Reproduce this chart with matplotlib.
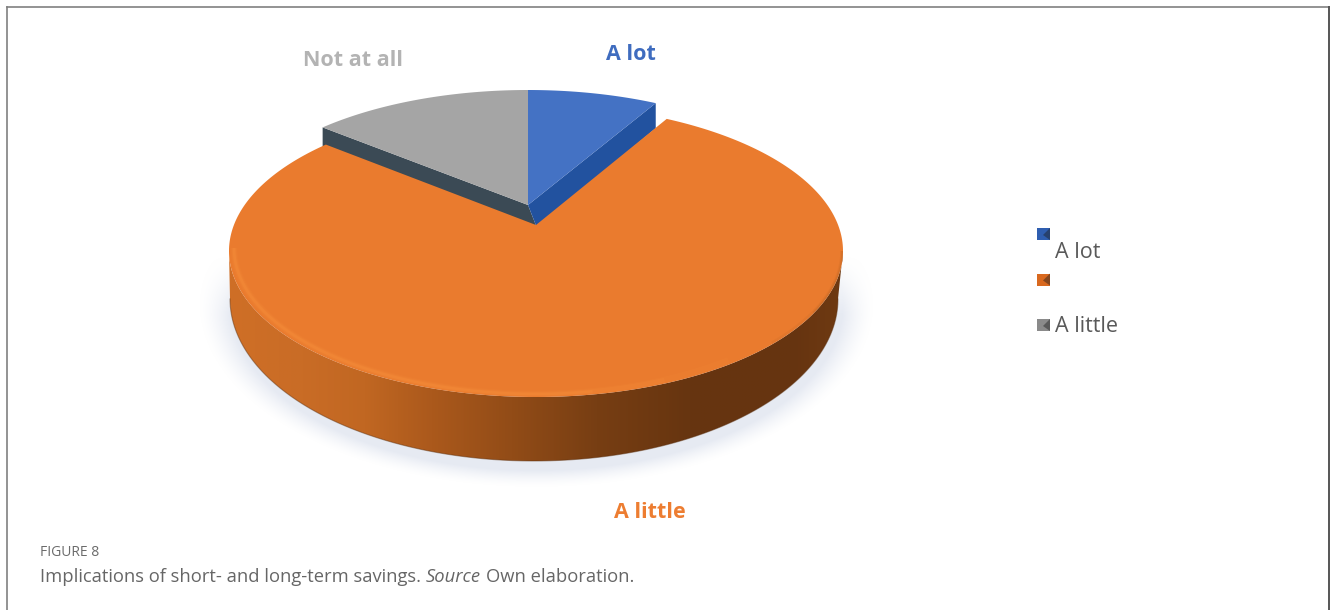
import numpy as np
import matplotlib
matplotlib.use("Agg")
import matplotlib.pyplot as plt
from matplotlib.colors import LinearSegmentedColormap
from matplotlib.patches import Polygon, Rectangle

# Survey shares, clockwise from twelve o'clock
categories = ["A lot", "A little", "Not at all"]
shares = [7, 81, 12]
slice_colors = ["#4472c4", "#ea7b2e", "#a5a5a5"]
label_colors = ["#3f6cbf", "#ed7d31", "#b3b3b3"]
legend_entries = ["A lot", "", "A little"]
legend_colors = ["#2f5eb0", "#d9691f", "#8a8a8a"]
caption_head = "FIGURE 8"
caption_body = "Implications of short- and long-term savings."

W, H = 1330, 610
fig = plt.figure(figsize=(W / 100, H / 100), dpi=100)
ax = fig.add_axes([0, 0, 1, 1])
ax.set_xlim(0, W)
ax.set_ylim(H, 0)
ax.axis("off")

# Slice boundaries in radians
edges = np.radians(np.cumsum([0] + shares) * 3.6)


def rim(theta, cx, cy, a, b):
    return np.column_stack([cx + a * np.sin(theta), cy - b * np.cos(theta)])


# Panel frame: open at the bottom, darker on the right
ax.plot([6.5, 6.5], [H + 2, 6.5], color="#808080", lw=1.2, zorder=1)
ax.plot([6.5, 1329], [6.5, 6.5], color="#808080", lw=1.2, zorder=1)
ax.plot([1329, 1329], [6.5, H + 2], color="#555555", lw=1.4, zorder=1)

# Orange disc geometry
OX, OY, OA, OB = 536, 251, 307, 146
HUB = (536, 225)
BX, BY, BA, BB = 534, 299, 304, 162

# Soft drop shadow under the disc, fading out towards the rim's widest point
yy, xx = np.mgrid[0:H, 0:W]
dist = np.sqrt(((xx - 536) / 316) ** 2 + ((yy - 303) / 172) ** 2)
alpha = np.clip((1.07 - dist) / 0.10, 0, 1) ** 1.5 * 0.5 * np.clip((yy - 255) / 60, 0, 1)
shadow = np.zeros((H, W, 4))
shadow[..., :3] = matplotlib.colors.to_rgb("#cdd5e6")
shadow[..., 3] = alpha
ax.imshow(shadow, extent=(0, W, H, 0), zorder=1, interpolation="bilinear", aspect="auto")

# Curved outer wall with its lateral shading
front = np.linspace(np.pi / 2, 3 * np.pi / 2, 200)
wall_pts = np.vstack([rim(front, OX, OY, OA, OB), rim(front[::-1], BX, BY, BA, BB)])
wall_cmap = LinearSegmentedColormap.from_list("wall", [
    (0.00, "#cf6f26"), (0.12, "#c96c26"), (0.22, "#c16722"), (0.33, "#ab591c"),
    (0.46, "#924c17"), (0.60, "#773e13"), (0.75, "#673510"), (0.92, "#663410"), (1.00, "#6f3a12"),
])
wall_img = ax.imshow(np.linspace(0, 1, 256).reshape(1, -1), extent=(229, 843, 470, 240),
                     cmap=wall_cmap, aspect="auto", zorder=2, interpolation="bilinear")
wall_patch = Polygon(wall_pts, closed=True, transform=ax.transData, fc="none", ec="none")
ax.add_patch(wall_patch)
wall_img.set_clip_path(wall_patch)
ax.plot(*rim(front, BX, BY, BA, BB).T, color="#5b2f0e", lw=0.8, alpha=0.45, zorder=3)

# Pulled-out slices: the blue and grey wedges sit behind the orange one
SX, SY, SA, SB = 528, 228, 300, 138
APEX = np.array([528, 205])
APEX_LOW = np.array([537, 228])
DROP = np.array([0, 25])

blue_end = rim(np.array([edges[1]]), SX, SY, SA, SB)[0]
grey_end = rim(np.array([edges[2]]), SX, SY, SA, SB)[0]
ax.add_patch(Polygon([APEX, grey_end, grey_end + DROP, APEX_LOW], fc="#3b4a55", ec="none", zorder=4))
ax.add_patch(Polygon([APEX, blue_end, blue_end + DROP, APEX_LOW], fc="#22529f", ec="none", zorder=4))

arc_blue = np.linspace(edges[0], edges[1], 40)
arc_grey = np.linspace(edges[2], edges[3], 60)
ax.add_patch(Polygon(np.vstack([APEX, rim(arc_blue, SX, SY, SA, SB)]),
                     fc=slice_colors[0], ec="none", zorder=5))
ax.add_patch(Polygon(np.vstack([APEX, rim(arc_grey, SX, SY, SA, SB)]),
                     fc=slice_colors[2], ec="none", zorder=5))

# Orange top surface with a soft bevel along the front edge
arc_orange = np.linspace(edges[1], edges[2], 300)
orange_top = Polygon(np.vstack([HUB, rim(arc_orange, OX, OY, OA, OB)]),
                     fc=slice_colors[1], ec="none", zorder=6)
ax.add_patch(orange_top)
for start, width, opacity in [(0.78, 5, 0.10), (0.86, 3.5, 0.16), (0.94, 2, 0.28)]:
    bevel = np.linspace(np.pi * start, np.pi * 1.5, 160)
    line, = ax.plot(*rim(bevel, OX, OY - 3, OA - 5, OB).T, color="#f8923f", lw=width,
                    alpha=opacity, zorder=7, solid_capstyle="butt")
    line.set_clip_path(orange_top)
for end, width, opacity in [(0.72, 4, 0.08), (0.64, 2.5, 0.14)]:
    shade = np.linspace(np.pi * 0.5, np.pi * end, 120)
    line, = ax.plot(*rim(shade, OX, OY, OA, OB).T, color="#8a4a16", lw=width, alpha=opacity,
                    zorder=7, solid_capstyle="butt")
    line.set_clip_path(orange_top)

# Slice labels
label_font = ["Open Sans", "DejaVu Sans"]
label_pos = [(631, 54), (650, 513), (353, 61)]
for name, color, (lx, ly) in zip(categories, label_colors, label_pos):
    ax.text(lx, ly, name, ha="center", va="center", color=color, fontsize=15.5,
            fontweight="bold", family=label_font, zorder=8)

# Legend column
legend_y = [234, 279.5, 325]
text_y = [252, None, 327]
for entry, color, y, ty in zip(legend_entries, legend_colors, legend_y, text_y):
    ax.add_patch(Rectangle((1037, y - 6), 13, 12, fc=color, ec="none", zorder=8))
    ax.add_patch(Polygon([(1050, y - 6), (1050, y + 6), (1043, y + 1)], fc="#1f1f1f", alpha=0.45,
                         ec="none", zorder=9))
    if entry:
        ax.text(1055, ty, entry, ha="left", va="center", color="#595959", fontsize=15.5,
                family=["Open Sans", "DejaVu Sans"], zorder=8)

# Caption
cap_font = ["Open Sans", "DejaVu Sans"]
ax.text(40, 553, caption_head, ha="left", va="center", color="#6b6b6b", fontsize=10,
        family=cap_font, zorder=8)
cap = ax.text(40, 576.5, caption_body, ha="left", va="center", color="#666666", fontsize=13.2,
              family=cap_font, zorder=8)
fig.canvas.draw()
box = cap.get_window_extent().transformed(ax.transData.inverted())
src = ax.text(box.x1 + 5, 576.5, "Source", ha="left", va="center", color="#666666", fontsize=13.2,
              style="italic", family=cap_font, zorder=8)
box = src.get_window_extent().transformed(ax.transData.inverted())
ax.text(box.x1 + 5, 576.5, "Own elaboration.", ha="left", va="center", color="#666666", fontsize=13.2,
        family=cap_font, zorder=8)

ax.set_xlim(0, W)
ax.set_ylim(H, 0)
fig.savefig("out.png", dpi=100)
